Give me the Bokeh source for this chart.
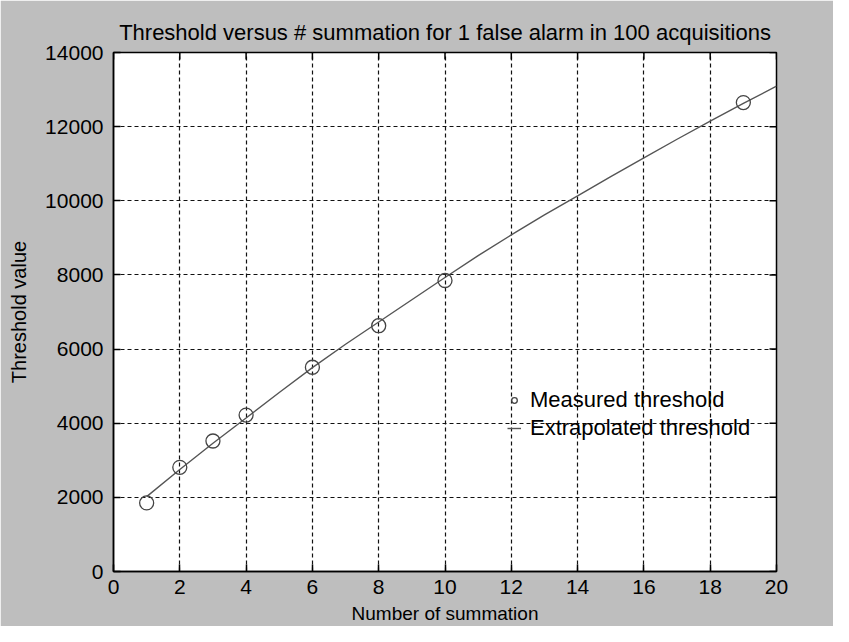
import math
from bokeh.plotting import figure
from bokeh.models import FixedTicker, Range1d, Legend, LegendItem
from bokeh.embed import file_html
from bokeh.resources import INLINE

# ---- data ----
x_measured = [1, 2, 3, 4, 6, 8, 10, 19]
y_measured = [1850, 2810, 3520, 4220, 5510, 6630, 7850, 12650]

x_extrap = [1, 2, 3, 4, 5, 6, 7, 8, 9, 10, 11, 12, 13, 14, 15, 16, 17, 18, 19, 20]
y_extrap = [2020, 2750, 3460, 4140, 4830, 5500, 6130, 6730, 7330, 7930,
            8520, 9080, 9620, 10130, 10650, 11160, 11660, 12150, 12630, 13090]

x_ticks = [0, 2, 4, 6, 8, 10, 12, 14, 16, 18, 20]
y_ticks = [0, 2000, 4000, 6000, 8000, 10000, 12000, 14000]

title_text = "Threshold versus # summation for 1 false alarm in 100 acquisitions"
x_label = "Number of summation"
y_label = "Threshold value"
legend_labels = ["Measured threshold", "Extrapolated threshold"]

FONT = "Liberation Sans"
BG = "#bebebe"

p = figure(width=833, height=626, output_backend="svg", toolbar_location=None,
           x_range=Range1d(x_ticks[0], x_ticks[-1]),
           y_range=Range1d(y_ticks[0], y_ticks[-1]),
           min_border_left=113, min_border_right=57,
           min_border_top=52, min_border_bottom=53)

p.border_fill_color = BG
p.background_fill_color = "white"
p.outline_line_color = "black"
p.outline_line_width = 1.5

p.title.text = title_text
p.title.align = "center"
p.title.text_font = FONT
p.title.text_font_size = "22px"
p.title.text_font_style = "normal"
p.title.text_color = "black"
p.title.standoff = 15

for ax, tick in ((p.xaxis[0], x_ticks), (p.yaxis[0], y_ticks)):
    ax.ticker = FixedTicker(ticks=tick)
    ax.major_label_text_font = FONT
    ax.major_label_text_font_size = "21px"
    ax.major_label_text_color = "black"
    ax.axis_label_text_font = FONT
    ax.axis_label_text_font_style = "normal"
    ax.axis_label_text_color = "black"
    ax.major_tick_in = 7
    ax.major_tick_out = 0
    ax.minor_tick_line_color = None
    ax.axis_line_color = "black"
    ax.axis_line_width = 1.5
    ax.major_tick_line_color = "black"
    ax.major_tick_line_width = 1.5

p.xaxis[0].axis_label = x_label
p.yaxis[0].axis_label = y_label
p.xaxis[0].axis_label_text_font_size = "19px"
p.yaxis[0].axis_label_text_font_size = "20px"
p.xaxis[0].major_label_standoff = 8
p.yaxis[0].major_label_standoff = 10
p.xaxis[0].axis_label_standoff = 6
p.yaxis[0].axis_label_standoff = 12

p.xgrid.ticker = FixedTicker(ticks=x_ticks)
p.ygrid.ticker = FixedTicker(ticks=y_ticks)
for g in (p.xgrid[0], p.ygrid[0]):
    g.grid_line_color = "#111111"
    g.grid_line_dash = "4 3"
    g.grid_line_width = 1.2
    g.grid_line_alpha = 1.0

# mirror ticks on top and right edges (MATLAB box style)
p.ray(x=x_ticks, y=[y_ticks[-1]] * len(x_ticks), length=7, length_units="screen",
      angle=-math.pi / 2, line_color="black", line_width=1.5)
p.ray(x=[x_ticks[-1]] * len(y_ticks), y=y_ticks, length=7, length_units="screen",
      angle=math.pi, line_color="black", line_width=1.5)

line_r = p.line(x_extrap, y_extrap, line_color="#555555", line_width=1.4)
pts_r = p.scatter(x_measured, y_measured, marker="circle", size=14,
                  line_color="#444444", line_width=1.3, fill_color=None)

legend = Legend(items=[LegendItem(label=legend_labels[0], renderers=[pts_r]),
                       LegendItem(label=legend_labels[1], renderers=[line_r])],
                location=(394, 130))
legend.background_fill_alpha = 0
legend.border_line_color = None
legend.label_text_font = FONT
legend.label_text_font_size = "22px"
legend.label_text_color = "black"
legend.glyph_width = 14
legend.glyph_height = 20
legend.label_height = 20
legend.label_standoff = 9
legend.spacing = 2
legend.padding = 0
legend.margin = 0
p.add_layout(legend, "center")

open("out.html", "w").write(file_html(p, INLINE))
